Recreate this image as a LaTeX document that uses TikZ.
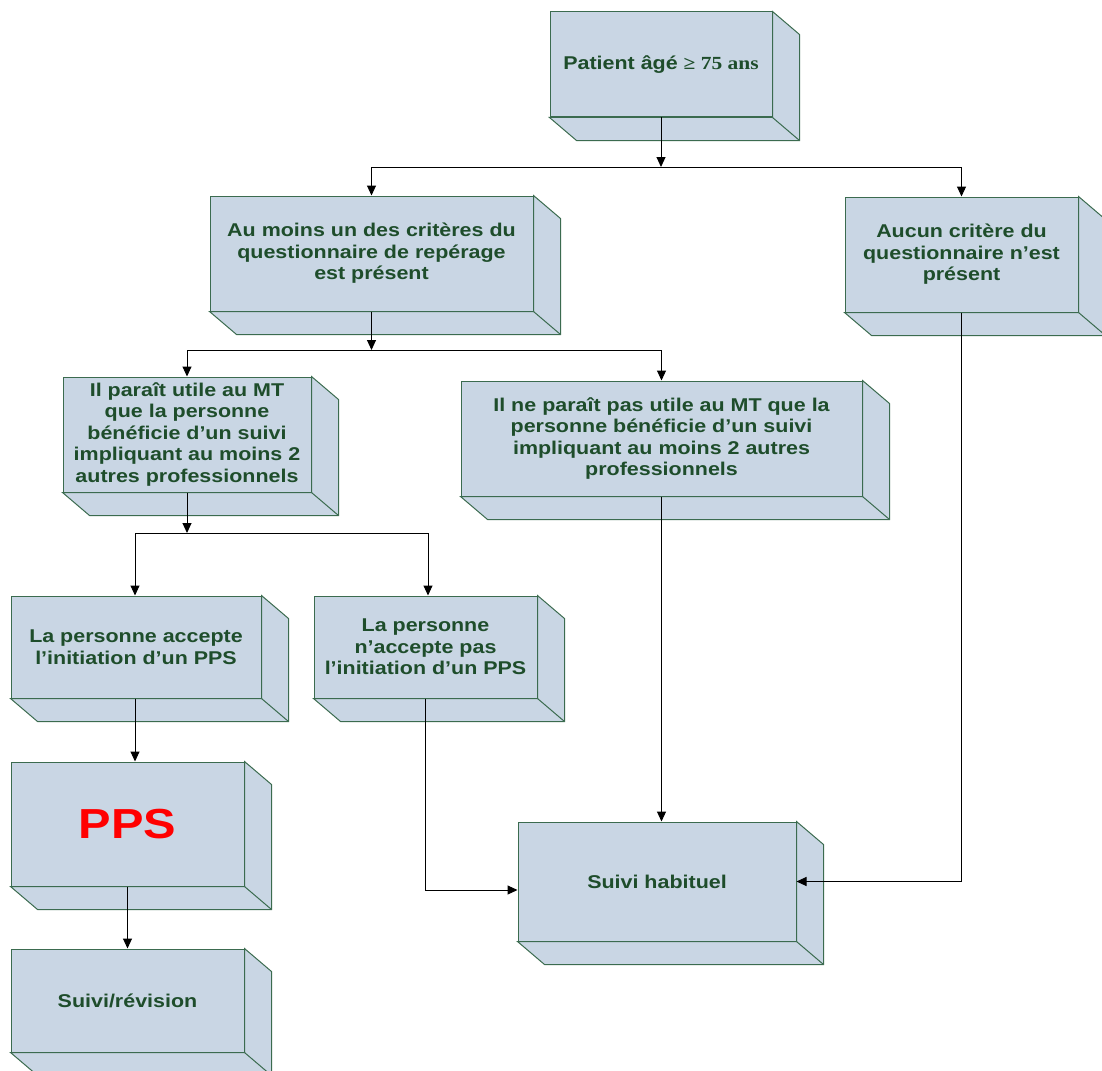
\documentclass[tikz,border=0pt]{standalone}
\usepackage{fontspec}
\setmainfont{Liberation Sans}[FakeStretch=1.16]
\newfontfamily\timesbf{Liberation Serif}[FakeStretch=1.16]
\usetikzlibrary{arrows.meta}
\definecolor{fondbloc}{HTML}{C9D6E4}
\definecolor{bordbloc}{HTML}{3B6B4F}
\definecolor{textebloc}{HTML}{1E4D2B}
\tikzset{
    bloc/.style={draw=bordbloc, fill=fondbloc, text=textebloc, line width=1pt,
        align=center, inner sep=0pt, font=\fontsize{18.5}{21.5}\selectfont\bfseries},
    relief/.style={draw=bordbloc, fill=fondbloc, line width=1pt, line join=miter},
    fleche/.style={-{Triangle[width=9pt,length=10pt]}, line width=1pt},
    trait/.style={line width=1pt}
}
%% side faces of a box (right and bottom)
\newcommand{\relief}[1]{%
    \draw[relief] (#1.north east) -- ++(27,23) -- ([shift={(27,23)}]#1.south east)
        -- ([shift={(27,23)}]#1.south west) -- (#1.south west) -- (#1.south east) -- cycle;
    \draw[relief] (#1.south east) -- ++(27,23);}

\begin{document}
\begin{tikzpicture}[x=1pt, y=-1pt]
    \useasboundingbox (0,0) rectangle (1102,1070);

    %% boxes
    \node[bloc, minimum width=222pt, minimum height=105pt] (patient) at (661,64.5)
        {Patient âgé {\timesbf ≥ 75 ans}};
    \node[bloc, minimum width=323pt, minimum height=115pt] (aumoins) at (371.5,253.5)
        {Au moins un des critères du\\questionnaire de repérage\\est présent};
    \node[bloc, minimum width=233pt, minimum height=115pt] (aucun) at (961.5,254.5)
        {Aucun critère du\\questionnaire n’est\\présent};
    \node[bloc, minimum width=248pt, minimum height=115pt] (utile) at (187,434.5)
        {Il paraît utile au MT\\que la personne\\bénéficie d’un suivi\\impliquant au moins 2\\autres professionnels};
    \node[bloc, minimum width=401pt, minimum height=115pt] (pasutile) at (661.5,438.5)
        {Il ne paraît pas utile au MT que la\\personne bénéficie d’un suivi\\impliquant au moins 2 autres\\professionnels};
    \node[bloc, minimum width=250pt, minimum height=102pt] (accepte) at (136,647)
        {La personne accepte\\l’initiation d’un PPS};
    \node[bloc, minimum width=223pt, minimum height=102pt] (refuse) at (425.5,647)
        {La personne\\n’accepte pas\\l’initiation d’un PPS};
    \node[bloc, minimum width=233pt, minimum height=124pt, text=red,
        font=\fontsize{42}{46}\selectfont\bfseries] (pps) at (127.5,824) {PPS};
    \node[bloc, minimum width=233pt, minimum height=103pt] (revision) at (127.5,1000.5)
        {\raisebox{-4pt}{Suivi/révision}};
    \node[bloc, minimum width=278pt, minimum height=119pt] (habituel) at (657,881.5)
        {Suivi habituel};

    \foreach \b in {patient,aumoins,aucun,utile,pasutile,accepte,refuse,pps,revision,habituel}
        \relief{\b};

    %% branch points
    \coordinate (b1) at (661,167);
    \coordinate (b2) at (371.5,350);
    \coordinate (b3) at (187,533);

    %% connectors
    \draw[fleche] (patient.south) -- (b1);
    \draw[trait] (aumoins.north |- b1) -- (aucun.north |- b1);
    \draw[fleche] (aumoins.north |- b1) -- (aumoins.north);
    \draw[fleche] (aucun.north |- b1) -- (aucun.north);

    \draw[fleche] (aumoins.south) -- (b2);
    \draw[trait] (utile.north |- b2) -- (pasutile.north |- b2);
    \draw[fleche] (utile.north |- b2) -- (utile.north);
    \draw[fleche] (pasutile.north |- b2) -- (pasutile.north);

    \draw[fleche] (utile.south) -- (b3);
    \draw[trait] ([xshift=-1pt]accepte.north |- b3) -- ([xshift=2.5pt]refuse.north |- b3);
    \draw[fleche] ([xshift=-1pt]accepte.north |- b3) -- ([xshift=-1pt]accepte.north);
    \draw[fleche] ([xshift=2.5pt]refuse.north |- b3) -- ([xshift=2.5pt]refuse.north);

    \draw[fleche] ([xshift=-1pt]accepte.south) -- ([xshift=-1pt]accepte.south |- pps.north);
    \draw[fleche] (pps.south) -- (revision.north);

    \draw[fleche] (refuse.south) |- ([yshift=-8.5pt]habituel.west);
    \draw[fleche] (pasutile.south) -- (pasutile.south |- habituel.north);
    \draw[fleche] (aucun.south) |- (habituel.east);

\end{tikzpicture}
\end{document}
